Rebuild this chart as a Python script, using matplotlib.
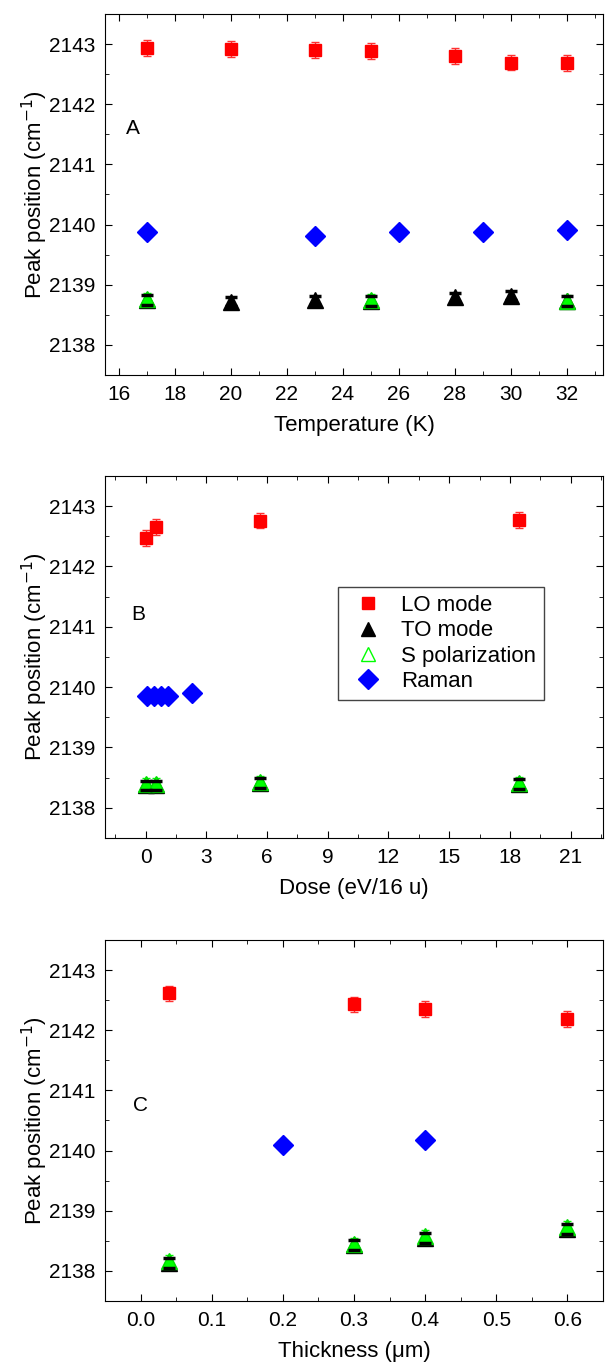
"""
Peak position of the LO / TO / S-polarization / Raman bands vs temperature, dose and thickness.
"""
import matplotlib.pyplot as plt
from matplotlib.lines import Line2D
from matplotlib.ticker import MultipleLocator

plt.rcParams['font.family'] = ['Liberation Sans', 'DejaVu Sans']
plt.rcParams['font.size'] = 15

# Panel A - temperature (K)
temp_lo = [17, 20, 23, 25, 28, 30, 32]
temp_lo_y = [2142.93, 2142.92, 2142.90, 2142.88, 2142.80, 2142.69, 2142.68]
temp_to = [17, 20, 23, 25, 28, 30, 32]
temp_to_y = [2138.75, 2138.72, 2138.74, 2138.73, 2138.79, 2138.82, 2138.73]
temp_s = [17, 25, 32]
temp_s_y = [2138.76, 2138.74, 2138.73]
temp_raman = [17, 23, 26, 29, 32]
temp_raman_y = [2139.88, 2139.81, 2139.88, 2139.88, 2139.91]

# Panel B - dose (eV/16 u)
dose_lo = [0.0, 0.5, 5.65, 18.45]
dose_lo_y = [2142.47, 2142.65, 2142.76, 2142.77]
dose_to = [0.0, 0.5, 5.65, 18.45]
dose_to_y = [2138.37, 2138.37, 2138.41, 2138.40]
dose_s = [0.0, 0.5, 5.65, 18.45]
dose_s_y = [2138.39, 2138.39, 2138.42, 2138.41]
dose_raman = [0.05, 0.4, 0.75, 1.1, 2.3]
dose_raman_y = [2139.86, 2139.86, 2139.86, 2139.86, 2139.90]

# Panel C - thickness (um)
thick_lo = [0.04, 0.3, 0.4, 0.6]
thick_lo_y = [2142.61, 2142.43, 2142.35, 2142.19]
thick_to = [0.04, 0.3, 0.4, 0.6]
thick_to_y = [2138.13, 2138.43, 2138.55, 2138.70]
thick_s = [0.04, 0.3, 0.4, 0.6]
thick_s_y = [2138.16, 2138.45, 2138.58, 2138.73]
thick_raman = [0.2, 0.4]
thick_raman_y = [2140.10, 2140.18]

LO_ERR = 0.13
TO_ERR = 0.08
S_ERR = 0.1


def draw_panel(ax, lo, to, s, raman):
    ax.errorbar(*lo, yerr=LO_ERR, fmt='s', color='#ff0000', ecolor='#ff3030',
                ms=9, capsize=3, elinewidth=1, zorder=3)
    ax.errorbar(*to, yerr=TO_ERR, fmt='^', color='black', ms=11,
                capsize=3, elinewidth=1, zorder=3)
    ax.errorbar(*s, yerr=S_ERR, fmt='^', mfc='#00ff00', mec='#00dd00',
                ecolor='#00ff00', ms=11, capsize=3, elinewidth=1, zorder=4)
    # TO caps peek through the green triangles
    ax.errorbar(*to, yerr=TO_ERR, fmt='none', ecolor='black', capsize=4,
                capthick=2.5, elinewidth=0, zorder=5)
    ax.plot(*raman, 'D', color='#0000ff', ms=10, zorder=3)

    ax.set_ylim(2137.5, 2143.5)
    ax.yaxis.set_major_locator(MultipleLocator(1))
    ax.yaxis.set_minor_locator(MultipleLocator(0.5))
    ax.ticklabel_format(axis='y', useOffset=False)
    ax.tick_params(which='both', direction='in', top=True, right=True)
    ax.tick_params(which='major', length=5, pad=7)
    ax.tick_params(which='minor', length=3)
    ax.set_ylabel('Peak position (cm$^{-1}$)', fontsize=16, labelpad=-1)


fig = plt.figure(figsize=(6.05, 13.65), dpi=100)
ax_a = fig.add_axes([0.1736, 0.7253, 0.8231, 0.2645])
ax_b = fig.add_axes([0.1736, 0.3861, 0.8231, 0.2652])
ax_c = fig.add_axes([0.1736, 0.0469, 0.8231, 0.2645])

draw_panel(ax_a, (temp_lo, temp_lo_y), (temp_to, temp_to_y),
           (temp_s, temp_s_y), (temp_raman, temp_raman_y))
ax_a.set_xlim(15.5, 33.3)
ax_a.xaxis.set_major_locator(MultipleLocator(2))
ax_a.xaxis.set_minor_locator(MultipleLocator(1))
ax_a.set_xlabel('Temperature (K)', fontsize=16, labelpad=8)
ax_a.text(16.5, 2141.6, 'A', ha='center', va='center', fontsize=15)

draw_panel(ax_b, (dose_lo, dose_lo_y), (dose_to, dose_to_y),
           (dose_s, dose_s_y), (dose_raman, dose_raman_y))
ax_b.set_xlim(-2.0, 22.6)
ax_b.xaxis.set_major_locator(MultipleLocator(3))
ax_b.xaxis.set_minor_locator(MultipleLocator(1.5))
ax_b.set_xlabel('Dose (eV/16 u)', fontsize=16, labelpad=8)
ax_b.text(-0.35, 2141.2, 'B', ha='center', va='center', fontsize=15)

draw_panel(ax_c, (thick_lo, thick_lo_y), (thick_to, thick_to_y),
           (thick_s, thick_s_y), (thick_raman, thick_raman_y))
ax_c.set_xlim(-0.05, 0.65)
ax_c.xaxis.set_major_locator(MultipleLocator(0.1))
ax_c.xaxis.set_minor_locator(MultipleLocator(0.05))
ax_c.set_xlabel('Thickness (\u03bcm)', fontsize=16, labelpad=8)
ax_c.text(0.0, 2140.75, 'C', ha='center', va='center', fontsize=15)

handles = [
    Line2D([], [], ls='none', marker='s', color='#ff0000', ms=9),
    Line2D([], [], ls='none', marker='^', color='black', ms=10),
    Line2D([], [], ls='none', marker='^', mfc='white', mec='#00ff00', ms=10),
    Line2D([], [], ls='none', marker='D', color='#0000ff', ms=10),
]
labels = ['LO mode', 'TO mode', 'S polarization', 'Raman']
leg = ax_b.legend(handles, labels, loc='upper left', bbox_to_anchor=(0.468, 0.693),
                  fancybox=False, framealpha=1, edgecolor='#444444',
                  handletextpad=0.5, labelspacing=0.2, borderpad=0.35,
                  fontsize=16, borderaxespad=0)
leg.get_frame().set_linewidth(1)

fig.savefig('out.png', dpi=100)
